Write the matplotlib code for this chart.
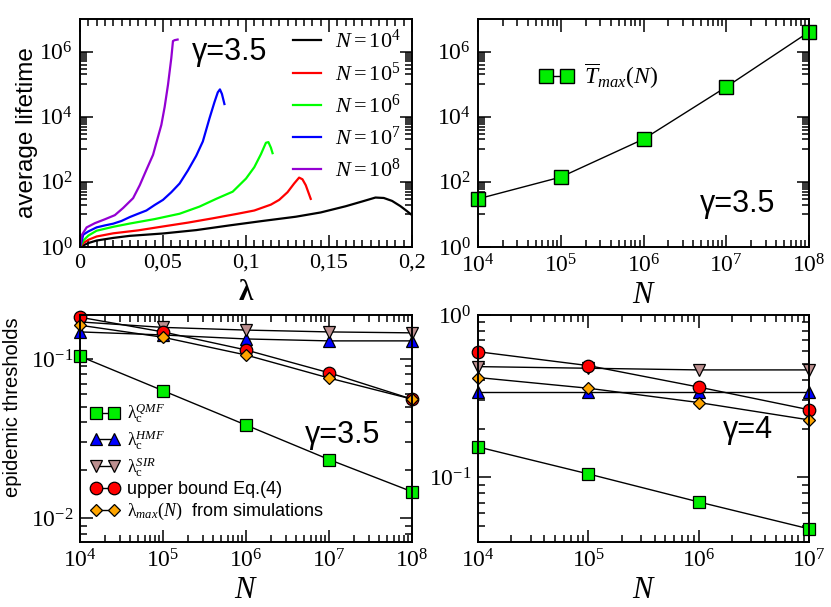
import numpy as np
import matplotlib
matplotlib.use("Agg")
import matplotlib.pyplot as plt
from matplotlib.ticker import FixedLocator, LogLocator, LogFormatterMathtext, NullFormatter, FuncFormatter

plt.rcParams['font.family'] = 'Liberation Serif'
plt.rcParams['mathtext.fontset'] = 'custom'
plt.rcParams['mathtext.rm'] = 'Liberation Serif'
plt.rcParams['mathtext.it'] = 'Liberation Serif:italic'
plt.rcParams['mathtext.bf'] = 'Liberation Serif:bold'

SANS = 'Liberation Sans'

# ===== datos: panel (a) tiempo de vida medio vs lambda =====
lam_1e4 = [0, 0.002, 0.005, 0.01, 0.02, 0.03, 0.05, 0.07, 0.09, 0.11, 0.13, 0.145,
           0.16, 0.17, 0.178, 0.183, 0.188, 0.193, 0.197, 0.2]
T_1e4 = [1.0, 1.12, 1.32, 1.58, 1.9, 2.2, 2.6, 3.3, 4.6, 6.3, 8.5, 11.5,
         17.8, 25, 33, 32, 26, 18, 12.6, 9.5]

lam_1e5 = [0, 0.002, 0.005, 0.01, 0.02, 0.035, 0.05, 0.065, 0.08, 0.095, 0.105,
           0.115, 0.12, 0.125, 0.129, 0.132, 0.134, 0.136, 0.139]
T_1e5 = [1.0, 1.32, 1.66, 2.1, 2.63, 3.24, 4.27, 5.6, 7.6, 10.5, 13.2,
         20, 28, 48, 89, 135, 120, 79, 30]

lam_1e6 = [0, 0.002, 0.005, 0.01, 0.02, 0.03, 0.045, 0.06, 0.072, 0.082, 0.092,
           0.1, 0.105, 0.109, 0.112, 0.1135, 0.115, 0.116]
T_1e6 = [1.0, 1.58, 2.24, 3.16, 4.17, 5.25, 7.2, 10.5, 17.4, 30, 50,
         126, 282, 708, 1585, 1660, 1120, 760]

lam_1e7 = [0, 0.002, 0.005, 0.01, 0.015, 0.02, 0.025, 0.03, 0.035, 0.04, 0.045,
           0.05, 0.055, 0.06, 0.065, 0.07, 0.074, 0.078, 0.081, 0.083, 0.0843,
           0.0855, 0.087]
T_1e7 = [1.0, 2.4, 3.0, 4.0, 4.6, 5.2, 6.3, 8.3, 10.5, 13.2, 19.5,
         28, 48, 89, 224, 630, 1740, 8900, 2.8e4, 5.6e4, 6.9e4,
         5.0e4, 2.45e4]

lam_1e8 = [0, 0.001, 0.004, 0.009, 0.015, 0.021, 0.026, 0.032, 0.036, 0.040,
           0.044, 0.046, 0.049, 0.051, 0.053, 0.055, 0.056, 0.057, 0.0588]
T_1e8 = [1.0, 2.3, 4.0, 5.4, 7.1, 9.5, 15.8, 31.6, 79, 234,
         676, 1585, 5600, 2.0e4, 9.5e4, 6.3e5, 2.1e6, 2.24e6, 2.34e6]

# ===== panel (b): T max vs N =====
N_b = [1e4, 1e5, 1e6, 1e7, 1e8]
Tmax_b = [30, 140, 2050, 8.2e4, 4.0e6]

# ===== panel (c): umbrales gamma=3.5 =====
N_c = [1e4, 1e5, 1e6, 1e7, 1e8]
qmf_c = [0.104, 0.0633, 0.0385, 0.0234, 0.0147]
hmf_c = [0.148, 0.1416, 0.1337, 0.130, 0.130]
sir_c = [0.171, 0.158, 0.152, 0.148, 0.146]
ub_c = [0.183, 0.148, 0.114, 0.082, 0.056]
lmax_c = [0.163, 0.137, 0.106, 0.076, 0.056]

# ===== panel (d): umbrales gamma=4 =====
N_d = [1e4, 1e5, 1e6, 1e7]
qmf_d = [0.154, 0.105, 0.0706, 0.0482]
hmf_d = [0.335, 0.335, 0.335, 0.335]
sir_d = [0.481, 0.47, 0.459, 0.459]
ub_d = [0.594, 0.488, 0.36, 0.261]
lmax_d = [0.412, 0.354, 0.289, 0.226]

fig = plt.figure(figsize=(8.31, 6.07), dpi=100)
W, H = 831.0, 607.0

def ejes(x0, y0, x1, y1):
    return fig.add_axes([x0 / W, 1 - y1 / H, (x1 - x0) / W, (y1 - y0) / H])

def estilo(ax):
    for s in ax.spines.values():
        s.set_linewidth(1.4)
    ax.tick_params(which='both', direction='in', top=True, right=True,
                   labelsize=17, width=1.1)
    ax.tick_params(which='major', length=9, pad=5)
    ax.tick_params(which='minor', length=5)

def minor_impares(lo, hi):
    # ticks menores estilo xmgrace: k*10^impar
    out = []
    for e in range(lo, hi + 1):
        if e % 2 == 1:
            out += [k * 10.0 ** e for k in range(1, 10)]
    return out

ax1 = ejes(80, 19, 412, 247)
ax2 = ejes(478, 19, 809, 247)
ax3 = ejes(80, 315, 412, 542)
ax4 = ejes(478, 315, 809, 542)

# ---- panel (a) ----
curvas = [(lam_1e4, T_1e4, 'black', r'$N=10^{4}$'),
          (lam_1e5, T_1e5, '#ff0000', r'$N=10^{5}$'),
          (lam_1e6, T_1e6, '#00ff00', r'$N=10^{6}$'),
          (lam_1e7, T_1e7, '#0000ff', r'$N=10^{7}$'),
          (lam_1e8, T_1e8, '#9400d3', r'$N=10^{8}$')]
for lx, ty, c, lab in curvas:
    ax1.plot(lx, ty, color=c, lw=1.6, label=lab)
ax1.set_yscale('log')
ax1.set_xlim(0, 0.2)
ax1.set_ylim(1, 1e7)
ax1.xaxis.set_major_locator(FixedLocator([0, 0.05, 0.1, 0.15, 0.2]))
ax1.xaxis.set_minor_locator(FixedLocator(np.arange(0, 0.2001, 0.005)))
ax1.xaxis.set_major_formatter(FuncFormatter(lambda v, p: ('%g' % v).replace('.', ',')))
ax1.yaxis.set_major_locator(FixedLocator([1, 1e2, 1e4, 1e6]))
ax1.yaxis.set_minor_locator(FixedLocator(minor_impares(0, 6)))
ax1.yaxis.set_major_formatter(LogFormatterMathtext())
ax1.yaxis.set_minor_formatter(NullFormatter())
estilo(ax1)
ax1.tick_params(axis='x', labelsize=16)
ax1.set_ylabel('average lifetime', family=SANS, fontsize=17.5, labelpad=1)
ax1.set_xlabel(r'$\mathbf{\lambda}$', fontsize=21, labelpad=5)
ax1.text(0.45, 0.855, 'γ=3.5', transform=ax1.transAxes, family=SANS, fontsize=22,
         ha='center', va='center')
ax1.legend(loc='upper left', bbox_to_anchor=(0.6, 1.01), frameon=False, fontsize=16,
           handlelength=1.3, handletextpad=0.6, labelspacing=0.4, borderaxespad=0.2)

# ---- panel (b) ----
ax2.plot(N_b, Tmax_b, color='black', lw=1, marker='s', ms=9.5, mfc='#00ee00',
         mec='black', mew=1, clip_on=False, label=r'$\overline{T}_{max}(N)$')
ax2.set_xscale('log')
ax2.set_yscale('log')
ax2.set_xlim(1e4, 1e8)
ax2.set_ylim(1, 1e7)
ax2.xaxis.set_major_locator(LogLocator(base=10, numticks=10))
ax2.xaxis.set_minor_locator(LogLocator(base=10, subs=np.arange(2, 10), numticks=20))
ax2.xaxis.set_minor_formatter(NullFormatter())
ax2.yaxis.set_major_locator(FixedLocator([1, 1e2, 1e4, 1e6]))
ax2.yaxis.set_minor_locator(FixedLocator(minor_impares(0, 6)))
ax2.yaxis.set_major_formatter(LogFormatterMathtext())
ax2.yaxis.set_minor_formatter(NullFormatter())
estilo(ax2)
ax2.set_xlabel(r'$N$', fontsize=22, labelpad=3)
ax2.text(0.785, 0.19, 'γ=3.5', transform=ax2.transAxes, family=SANS, fontsize=22,
         ha='center', va='center')
ax2.legend(loc='center left', bbox_to_anchor=(0.12, 0.75), frameon=False, fontsize=17,
           numpoints=2, handlelength=1.5, handletextpad=0.4)

# ---- paneles (c) y (d) ----
def umbrales(ax, N, qmf, hmf, sir, ub, lmax):
    kw = dict(color='black', lw=1, mec='black', mew=0.9, clip_on=False)
    ax.plot(N, qmf, marker='s', ms=8, mfc='#00ee00',
            label=r'$\mathrm{\lambda}_{\mathrm{c}}^{QMF}$', **kw)
    ax.plot(N, hmf, marker='^', ms=9, mfc='#0000ff',
            label=r'$\mathrm{\lambda}_{\mathrm{c}}^{HMF}$', **kw)
    ax.plot(N, sir, marker='v', ms=9, mfc='#bc8f8f',
            label=r'$\mathrm{\lambda}_{\mathrm{c}}^{SIR}$', **kw)
    ax.plot(N, ub, marker='o', ms=9, mfc='#ff0000', label='upper bound Eq.(4)', **kw)
    ax.plot(N, lmax, marker='D', ms=6.5, mfc='#ffa500',
            label=r'$\mathrm{\lambda}_{max}(N)$  from simulations', **kw)
    ax.set_xscale('log')
    ax.set_yscale('log')
    ax.xaxis.set_major_locator(LogLocator(base=10, numticks=10))
    ax.xaxis.set_minor_locator(LogLocator(base=10, subs=np.arange(2, 10), numticks=20))
    ax.xaxis.set_minor_formatter(NullFormatter())
    ax.yaxis.set_major_locator(LogLocator(base=10, numticks=10))
    ax.yaxis.set_minor_locator(LogLocator(base=10, subs=np.arange(2, 10), numticks=20))
    ax.yaxis.set_minor_formatter(NullFormatter())
    estilo(ax)
    ax.set_xlabel(r'$N$', fontsize=22, labelpad=3)

umbrales(ax3, N_c, qmf_c, hmf_c, sir_c, ub_c, lmax_c)
ax3.set_xlim(1e4, 1e8)
ax3.set_ylim(0.0071, 0.189)
ax3.set_ylabel('epidemic thresholds', family=SANS, fontsize=14.5)
ax3.yaxis.set_label_coords(-0.175, 0.595)
ax3.text(0.79, 0.47, 'γ=3.5', transform=ax3.transAxes, family=SANS, fontsize=22,
         ha='center', va='center')
ax3.legend(loc='lower left', bbox_to_anchor=(0.0, 0.04), frameon=False,
           prop={'family': SANS, 'size': 13}, numpoints=2, handlelength=1.6,
           handletextpad=0.4, labelspacing=0.15, borderaxespad=0.2)

umbrales(ax4, N_d, qmf_d, hmf_d, sir_d, ub_d, lmax_d)
ax4.set_xlim(1e4, 1e7)
ax4.set_ylim(0.04, 1.0)
ax4.text(0.816, 0.493, 'γ=4', transform=ax4.transAxes, family=SANS, fontsize=22,
         ha='center', va='center')

fig.savefig('out.png', dpi=100)
